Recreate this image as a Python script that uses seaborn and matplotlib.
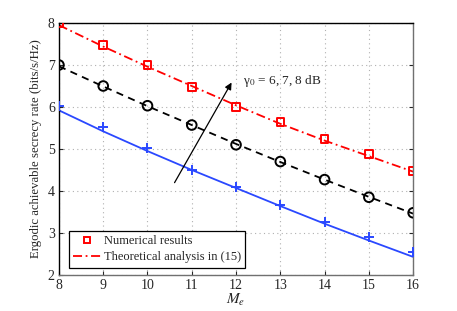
import matplotlib
matplotlib.use("Agg")
import matplotlib.pyplot as plt
import seaborn as sns
import numpy as np
from matplotlib.lines import Line2D

sns.set_style("ticks")
plt.rcParams['font.family'] = ['Liberation Serif', 'DejaVu Serif']
plt.rcParams['mathtext.fontset'] = 'stix'

Me = [8, 9, 10, 11, 12, 13, 14, 15, 16]
# numerical results (markers)
num_8dB = [8.0, 7.48, 7.0, 6.48, 6.0, 5.64, 5.24, 4.88, 4.48]
num_7dB = [7.0, 6.5, 6.03, 5.57, 5.1, 4.7, 4.27, 3.85, 3.48]
num_6dB = [6.02, 5.52, 5.02, 4.5, 4.1, 3.67, 3.27, 2.9, 2.55]
# theoretical analysis (lines)
th_8dB = [7.95, 7.44, 6.96, 6.5, 6.04, 5.6, 5.2, 4.83, 4.46]
th_7dB = [6.97, 6.49, 6.02, 5.57, 5.12, 4.69, 4.27, 3.86, 3.46]
th_6dB = [5.92, 5.42, 4.95, 4.5, 4.07, 3.64, 3.22, 2.82, 2.43]

RED = "#ff0000"
BLUE = "#2a48ff"
DASHDOT = (0, (5, 2, 1, 2))

fig = plt.figure(figsize=(4.57, 3.11), dpi=100)
ax = fig.add_axes([0.129, 0.116, 0.775, 0.81])

sns.lineplot(x=Me, y=th_8dB, ax=ax, color=RED, lw=1.3, linestyle=DASHDOT)
sns.lineplot(x=Me, y=th_7dB, ax=ax, color="black", lw=1.3, linestyle=(0, (4, 3)))
sns.lineplot(x=Me, y=th_6dB, ax=ax, color=BLUE, lw=1.3, linestyle="-")

sns.scatterplot(x=Me, y=num_8dB, ax=ax, marker="s", s=30, facecolor="none",
                edgecolor=RED, linewidth=1.4, zorder=5)
sns.scatterplot(x=Me, y=num_7dB, ax=ax, marker="o", s=48, facecolor="none",
                edgecolor="black", linewidth=1.4, zorder=5)
sns.scatterplot(x=Me, y=num_6dB, ax=ax, marker="+", s=48, color=BLUE,
                linewidth=1.4, zorder=5)

ax.set_xlim(8, 16)
ax.set_ylim(2, 8)
ax.set_xticks(Me)
ax.set_yticks([2, 3, 4, 5, 6, 7, 8])
ax.grid(True, linestyle=(0, (1, 3)), color="#b0b0b0", lw=0.8)
ax.tick_params(direction="in", length=3, labelsize=10, top=False, right=True, pad=3)
for s in ["top", "left"]:
    ax.spines[s].set_color("black")
for s in ["bottom", "right"]:
    ax.spines[s].set_color("#707070")
for s in ax.spines.values():
    s.set_linewidth(1.0)

ax.set_xlabel("$M_e$", fontsize=11, labelpad=0)
ax.set_ylabel("Ergodic achievable secrecy rate (bits/s/Hz)", fontsize=9.2, labelpad=4)

ax.annotate("", xy=(11.93, 6.64), xytext=(10.58, 4.14),
            arrowprops=dict(arrowstyle="-|>", color="black", lw=0.9, mutation_scale=10))
ax.text(12.15, 6.62, "γ$_0$ = 6, 7, 8 dB", fontsize=9.5, va="center", ha="left")

handles = [Line2D([], [], marker="s", color=RED, markerfacecolor="none", ls="none",
                  markersize=4.5, mew=1.4),
           Line2D([], [], color=RED, lw=1.3, linestyle=DASHDOT)]
leg = ax.legend(handles, ["Numerical results", "Theoretical analysis in (15)"],
                loc="lower left", bbox_to_anchor=(0.028, 0.028), borderaxespad=0,
                fontsize=9, frameon=True, fancybox=False, edgecolor="black",
                framealpha=1, handlelength=2.2, handletextpad=0.25,
                borderpad=0.35, labelspacing=0.35)
leg.get_frame().set_linewidth(0.9)

fig.savefig("out.png", dpi=100)
